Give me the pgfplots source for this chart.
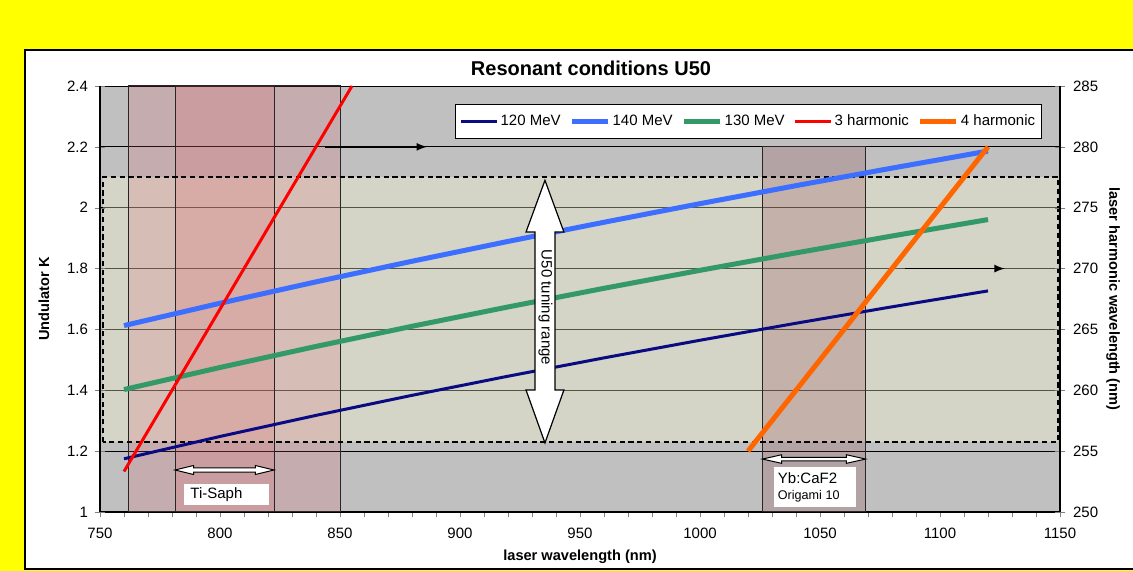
\documentclass[border=0pt]{standalone}
\usepackage{fontspec}
\setmainfont{Liberation Sans}
\usepackage{pgfplots}
\pgfplotsset{compat=1.18}
\definecolor{bggray}{RGB}{192,192,192}
\definecolor{navyline}{RGB}{10,10,130}
\definecolor{blueline}{RGB}{60,110,255}
\definecolor{greenline}{RGB}{51,153,102}
\definecolor{orangeline}{RGB}{255,102,0}
\definecolor{dashfill}{RGB}{255,255,215}
\definecolor{tifill}{RGB}{225,90,100}
\definecolor{ybfill}{RGB}{140,60,70}
\definecolor{panelyellow}{RGB}{255,255,0}
\newcommand\tickfont{\fontsize{7.5}{9}\selectfont}
\newcommand\labfont{\fontsize{7.3}{9}\selectfont}
\pgfplotsset{
  common/.style={
    at={(50pt,29.5pt)}, anchor=south west, scale only axis,
    width=480pt, height=213pt,
    xmin=750, xmax=1150,
    tick label style={font=\tickfont},
    /pgf/number format/assume math mode=true,
    /pgf/number format/1000 sep={},
  }
}
\begin{document}
\begin{tikzpicture}
\useasboundingbox (0pt,0pt) rectangle (566.5pt,285.5pt);
\fill[panelyellow] (0pt,0pt) rectangle (566.5pt,285.5pt);
\draw[fill=white, line width=1pt] (12.5pt,1pt) rectangle (600pt,260.25pt);
\node[font=\bfseries\fontsize{10}{12}\selectfont] at (295.5pt,251.5pt) {Resonant conditions U50};

% main axis: data, x ticks, grid
\begin{axis}[common,
  ymin=1, ymax=2.4,
  axis background/.style={fill=bggray},
  axis x line*=bottom, axis y line*=left,
  axis line style={line width=0.6pt},
  xtick={750,800,...,1150}, minor x tick num=4,
  tick align=outside, major tick length=2.5pt, minor tick length=2.5pt,
  xticklabel style={yshift=-2pt},
  ytick={1,1.2,1.4,1.6,1.8,2,2.2,2.4}, yticklabels={},
  ytick style={draw=none},
  ymajorgrids, major grid style={black, line width=0.45pt},
  every axis x label/.style={at={(axis description cs:0.5,-0.1056)}, anchor=center, font=\bfseries\labfont},
  xlabel={laser wavelength (nm)},
]
\fill[dashfill, opacity=0.33] (axis cs:751.25,1.23) rectangle (axis cs:1149.2,2.101);
\filldraw[fill=tifill, fill opacity=0.18, draw=black!85, line width=0.5pt] (axis cs:761.8,1) rectangle (axis cs:850,2.4);
\filldraw[fill=tifill, fill opacity=0.18, draw=black!85, line width=0.5pt] (axis cs:781.25,1) rectangle (axis cs:822.5,2.4);
\filldraw[fill=ybfill, fill opacity=0.22, draw=black!85, line width=0.5pt] (axis cs:1026,1) rectangle (axis cs:1069,2.2);
\draw[black, line width=0.7pt, dash pattern=on 2.6pt off 1.8pt] (axis cs:751.25,1.23) rectangle (axis cs:1149.2,2.101);

\addplot[navyline, line width=1.5pt] coordinates {
(760,1.1748) (800,1.2482) (840,1.3175) (880,1.3834) (920,1.4462) (960,1.5065)
(1000,1.5644) (1040,1.6203) (1080,1.6743) (1120,1.7266)};
\addplot[blueline, line width=2.5pt] coordinates {
(760,1.6126) (800,1.6860) (840,1.7563) (880,1.8240) (920,1.8892) (960,1.9522)
(1000,2.0133) (1040,2.0725) (1080,2.1301) (1120,2.1862)};
\addplot[greenline, line width=2.5pt] coordinates {
(760,1.4024) (800,1.4749) (840,1.5441) (880,1.6103) (920,1.6738) (960,1.7351)
(1000,1.7942) (1040,1.8515) (1080,1.9070) (1120,1.9610)};

% arrows pointing to right axis
\draw[black, line width=0.8pt, -latex] (axis cs:843.75,2.2) -- (axis cs:886.25,2.2);
\draw[black, line width=0.8pt, -latex] (axis cs:1085.4,1.8) -- (axis cs:1127,1.8);

% U50 tuning range arrow
\filldraw[fill=white, draw=black, line width=0.6pt]
 (axis cs:935.4,2.09) -- (axis cs:943.3,1.92) -- (axis cs:939.6,1.92) -- (axis cs:939.6,1.401)
 -- (axis cs:943.3,1.401) -- (axis cs:935.4,1.227) -- (axis cs:927.5,1.401) -- (axis cs:931.25,1.401)
 -- (axis cs:931.25,1.92) -- (axis cs:927.5,1.92) -- cycle;
\node[rotate=-90, font=\tickfont, inner sep=0pt] at (axis cs:935.6,1.672) {U50 tuning range};

% Ti-Saph
\filldraw[fill=white, draw=black, line width=0.5pt]
 (axis cs:781.25,1.138) -- (axis cs:789,1.1528) -- (axis cs:789,1.1446) -- (axis cs:814.7,1.1446)
 -- (axis cs:814.7,1.1528) -- (axis cs:822.5,1.138) -- (axis cs:814.7,1.1232) -- (axis cs:814.7,1.1314)
 -- (axis cs:789,1.1314) -- (axis cs:789,1.1232) -- cycle;
\fill[white] (axis cs:785,1.023) rectangle (axis cs:820.4,1.092);
\node[anchor=west, font=\tickfont, inner sep=0pt] at (axis cs:787.5,1.056) {Ti-Saph};

% Yb:CaF2
\filldraw[fill=white, draw=black, line width=0.5pt]
 (axis cs:1026,1.174) -- (axis cs:1034,1.1881) -- (axis cs:1034,1.1799) -- (axis cs:1061,1.1799)
 -- (axis cs:1061,1.1881) -- (axis cs:1069,1.174) -- (axis cs:1061,1.1599) -- (axis cs:1061,1.1681)
 -- (axis cs:1034,1.1681) -- (axis cs:1034,1.1599) -- cycle;
\fill[white] (axis cs:1030.8,1.016) rectangle (axis cs:1065,1.148);
\node[anchor=west, font=\tickfont, inner sep=0pt] at (axis cs:1032.3,1.112) {Yb:CaF2};
\node[anchor=west, font=\fontsize{6.3}{7.5}\selectfont, inner sep=0pt] at (axis cs:1032.3,1.053) {Origami 10};
\end{axis}

% left y axis ticks and labels
\begin{axis}[common,
  ymin=1, ymax=2.4,
  axis x line=none, axis y line*=left,
  axis line style={line width=0.6pt},
  ytick={1,1.2,1.4,1.6,1.8,2,2.2,2.4},
  tick align=center, major tick length=5pt,
  every axis y label/.style={at={(axis description cs:-0.0583,0.5)}, anchor=center, rotate=90, font=\bfseries\labfont},
  ylabel={Undulator K},
]
\end{axis}

% right axis
\begin{axis}[common,
  ymin=250, ymax=285,
  axis x line=none, axis y line*=right,
  axis line style={line width=0.6pt},
  ytick={250,255,...,285},
  tick align=center, major tick length=5pt,
  yticklabel style={xshift=0.5pt},
  every axis y label/.style={at={(axis description cs:1.0552,0.5)}, anchor=center, rotate=-90, font=\bfseries\labfont},
  ylabel={laser harmonic wavelength (nm)},
  legend columns=5,
  legend image code/.code={\draw[#1] (0pt,0pt) -- (18pt,0pt);},
  legend style={at={(axis description cs:0.3698,0.9577)}, anchor=north west,
    draw=black, line width=0.6pt, fill=white, font=\tickfont,
    inner xsep=2pt, inner ysep=3pt,
    /tikz/every odd column/.append style={column sep=0pt},
    /tikz/every even column/.append style={column sep=3.5pt},
    nodes={inner xsep=1pt}},
]
\addlegendimage{navyline, line width=1.5pt}
\addlegendimage{blueline, line width=2.5pt}
\addlegendimage{greenline, line width=2.5pt}
\addlegendimage{red, line width=1.5pt}
\addlegendimage{orangeline, line width=2.5pt}
\addplot[red, line width=1.5pt, forget plot] coordinates {(760,253.33) (855,285)};
\addplot[orangeline, line width=2.5pt, forget plot] coordinates {(1020,255) (1120,280)};
\legend{120 MeV,140 MeV,130 MeV,3 harmonic,4 harmonic}
\end{axis}
\end{tikzpicture}
\end{document}
